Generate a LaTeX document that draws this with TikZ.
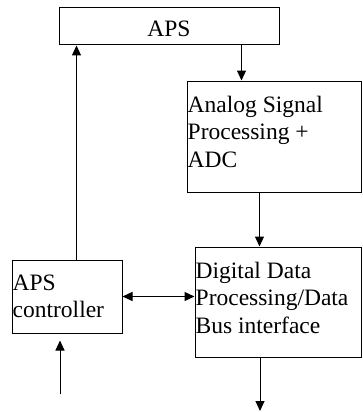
\documentclass[tikz,border=0pt]{standalone}
\usepackage{fontspec}
\setmainfont{Liberation Serif}
\usetikzlibrary{arrows.meta}

\begin{document}
\begin{tikzpicture}[x=1pt,y=-1pt,
    box/.style={draw,line width=1pt,inner sep=0pt,rectangle},
    txt/.style={inner sep=0pt,anchor=north west,align=left,
      font=\fontsize{23.5pt}{27.5pt}\selectfont},
    arr/.style={line width=1pt,-{Triangle[length=10pt,width=9pt]}},
    darr/.style={line width=1pt,{Triangle[length=10pt,width=9pt]}-{Triangle[length=10pt,width=9pt]}}]
    \useasboundingbox (0,0) rectangle (362,412);
    % kotak-kotak
    \node[box,minimum width=220pt,minimum height=37pt,text height=21pt,text depth=0pt,
      font=\fontsize{23.5pt}{27.5pt}\selectfont] (aps) at (169,26.5) {APS};
    \node[box,minimum width=174pt,minimum height=111pt] (ana) at (274,136.5) {};
    \node[box,minimum width=166pt,minimum height=110pt] (dig) at (278,302) {};
    \node[box,minimum width=110pt,minimum height=73pt] (ctrl) at (67,296.5) {};
    % teks di dalam kotak
    \node[txt] (anatxt) at ([shift={(1,15)}]ana.north west) {Analog Signal\\Processing +\\ADC};
    \node[txt] (digtxt) at ([shift={(1,15)}]dig.north west) {Digital Data\\Processing/Data\\Bus interface};
    \node[txt] (ctrltxt) at ([shift={(1,15)}]ctrl.north west) {APS\\controller};
    % titik ujung bebas
    \coordinate (in) at (60,394);
    \coordinate (out) at (260,411);

    % pembuatan panah
    \draw[arr] ([xshift=183pt]aps.south west) -- ([xshift=183pt]aps.south west |- ana.north);
    \draw[arr] ([xshift=65pt]ctrl.north west) -- ([xshift=65pt]ctrl.north west |- aps.south);
    \draw[arr] ([xshift=73pt]ana.south west) -- ([xshift=73pt]ana.south west |- dig.north);
    \draw[darr] (ctrl.east) -- (ctrl.east -| dig.west);
    \draw[arr,shorten >=7pt] (in) -- (in |- ctrl.south);
    \draw[arr] (out |- dig.south) -- (out);
\end{tikzpicture}
\end{document}
